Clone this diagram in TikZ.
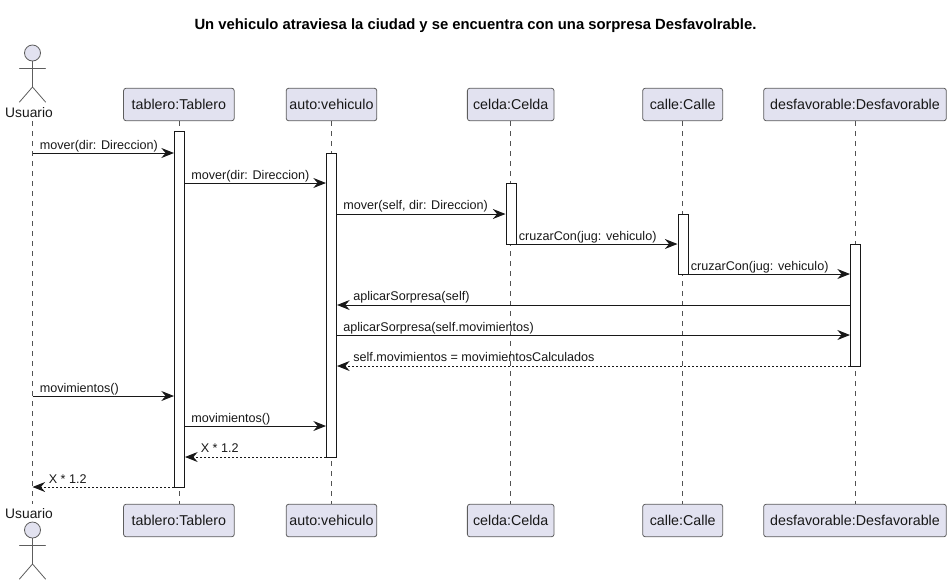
\documentclass[tikz,border=0pt]{standalone}
\usepackage{fontspec}
\setmainfont{Liberation Sans}
\usetikzlibrary{arrows.meta}
\definecolor{pfill}{HTML}{E2E2F0}
\definecolor{pline}{HTML}{181818}
\tikzset{
  x=0.75pt,y=-0.75pt,
  part/.style={draw=pline!70,line width=0.6pt,fill=pfill,rounded corners=1.9pt,minimum height=24.4pt,inner sep=0pt,font=\fontsize{10.7}{12}\selectfont,text=pline},
  bar/.style={draw=pline,line width=0.75pt,fill=white,minimum width=7.5pt,inner sep=0pt,anchor=north},
  life/.style={draw=pline!75,line width=0.5pt,dash pattern=on 3.75pt off 3.75pt},
  msg/.style={draw=pline,line width=0.75pt,-{Stealth[length=9.5pt,width=7.5pt,inset=3.2pt,color=pline]}},
  ret/.style={msg,dash pattern=on 1.5pt off 1.5pt},
  lab/.style={font=\fontsize{9.45}{11}\selectfont,text=pline,inner sep=0pt,anchor=base west},
  actorln/.style={draw=pline!70,line width=0.6pt,line cap=round},
  head/.style={circle,draw=pline!70,line width=0.6pt,fill=pfill,minimum size=12pt,inner sep=0pt},
  anam/.style={font=\fontsize{10.35}{12}\selectfont,text=pline,inner sep=0pt},
}
\newcommand{\actorfig}[2]{%
  \node[head] (#1) at (32.5,#2) {};
  \coordinate (#1hip) at (32.5,#2+34);
  \coordinate (#1arm) at (32.5,#2+15);
  \coordinate (#1al) at (19.5,#2+15);
  \coordinate (#1ar) at (45.5,#2+15);
  \coordinate (#1fl) at (19.5,#2+49);
  \coordinate (#1fr) at (45.5,#2+49);
  \draw[actorln] (#1.south) -- (#1hip);
  \draw[actorln] (#1al) -- (#1ar);
  \draw[actorln] (#1fl) -- (#1hip) -- (#1fr);
}
\begin{document}
\begin{tikzpicture}
\useasboundingbox (0,0) rectangle (952,586);
\node[font=\fontsize{11.12}{13}\selectfont\bfseries,text=black,inner sep=0pt] (title) at (475.5,25.5) {Un vehiculo atraviesa la ciudad y se encuentra con una sorpresa Desfavolrable.};

% lifeline end points and participants
\node[anam] (uname) at (29,113) {Usuario};
\node[anam] (unameb) at (29,513.5) {Usuario};
\node[part,minimum width=83pt] (tabT) at (178.9,104.5) {tablero:Tablero};
\node[part,minimum width=68pt] (autT) at (331.5,104.5) {auto:vehiculo};
\node[part,minimum width=65pt] (celT) at (510.7,104.5) {celda:Celda};
\node[part,minimum width=60pt] (calT) at (682.7,104.5) {calle:Calle};
\node[part,minimum width=137pt] (desT) at (855,104.5) {desfavorable:Desfavorable};
\node[part,minimum width=83pt] (tabB) at (178.9,520.5) {tablero:Tablero};
\node[part,minimum width=68pt] (autB) at (331.5,520.5) {auto:vehiculo};
\node[part,minimum width=65pt] (celB) at (510.7,520.5) {celda:Celda};
\node[part,minimum width=60pt] (calB) at (682.7,520.5) {calle:Calle};
\node[part,minimum width=137pt] (desB) at (855,520.5) {desfavorable:Desfavorable};

\coordinate (uTop) at (32.5,121);
\coordinate (uBot) at (32.5,504);
\draw[life] (uTop) -- (uBot);
\draw[life] (tabT) -- (tabB);
\draw[life] (autT) -- (autB);
\draw[life] (celT) -- (celB);
\draw[life] (calT) -- (calB);
\draw[life] (desT) -- (desB);

\actorfig{uh}{53}
\actorfig{ub}{530}

% activation bars
\node[bar,minimum height=267pt] (aTab) at (179.5,131) {};
\node[bar,minimum height=228pt] (aAut) at (331.5,153) {};
\node[bar,minimum height=45.7pt] (aCel) at (511,183) {};
\node[bar,minimum height=45pt] (aCal) at (683,214) {};
\node[bar,minimum height=91.5pt] (aDes) at (855.5,244) {};

% messages
\draw[msg] (uTop |- 0,153) -- (aTab.west |- 0,153);
\draw[msg] (aTab.east |- 0,183) -- (aAut.west |- 0,183);
\draw[msg] (aAut.east |- 0,214) -- (aCel.west |- 0,214);
\draw[msg] (aCel.east |- 0,244) -- (aCal.west |- 0,244);
\draw[msg] (aCal.east |- 0,274) -- (aDes.west |- 0,274);
\draw[msg] (aDes.west |- 0,305) -- (aAut.east |- 0,305);
\draw[msg] (aAut.east |- 0,335) -- (aDes.west |- 0,335);
\draw[ret] (aDes.west |- 0,366) -- (aAut.east |- 0,366);
\draw[msg] (uTop |- 0,396) -- (aTab.west |- 0,396);
\draw[msg] (aTab.east |- 0,426) -- (aAut.west |- 0,426);
\draw[ret] (aAut.west |- 0,457) -- (aTab.east |- 0,457);
\draw[ret] (aTab.west |- 0,487) -- (uTop |- 0,487);

% labels
\node[lab] (m1) at (39.5,149) {mover(dir: Direccion)};
\node[lab] (m2) at (191,179) {mover(dir: Direccion)};
\node[lab] (m3) at (343,209) {mover(self, dir: Direccion)};
\node[lab] (m4) at (518.5,240) {cruzarCon(jug: vehiculo)};
\node[lab] (m5) at (690.5,270) {cruzarCon(jug: vehiculo)};
\node[lab] (m6) at (353,300) {aplicarSorpresa(self)};
\node[lab] (m7) at (343,331) {aplicarSorpresa(self.movimientos)};
\node[lab] (m8) at (353,361) {self.movimientos = movimientosCalculados};
\node[lab] (m9) at (39.5,392) {movimientos()};
\node[lab] (m10) at (191,422) {movimientos()};
\node[lab] (m11) at (200.5,452) {X * 1.2};
\node[lab] (m12) at (48.5,483) {X * 1.2};
\end{tikzpicture}
\end{document}
